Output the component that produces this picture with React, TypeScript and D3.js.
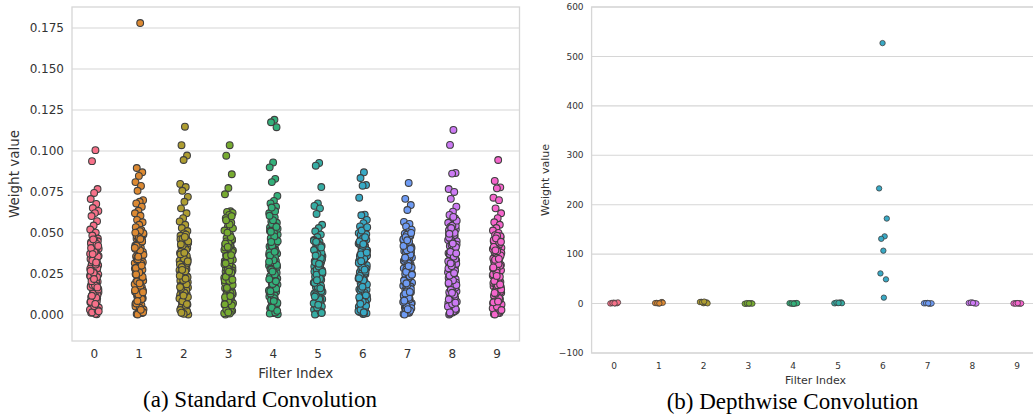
import React from "react";
import * as d3 from "d3";

const filters = ["0", "1", "2", "3", "4", "5", "6", "7", "8", "9"];
const palette = ["#f77189", "#dc8932", "#ae9d31", "#77ab31", "#33b07a", "#36ada4", "#38a9c5", "#6e9bf4", "#cc7af4", "#f565cc"];

// (a) standard convolution, weights per filter (outliers first, then the dense column)
const std0 = [0.1005, 0.0938, 0.0768, 0.0744, 0.0707, 0.0677, 0.0652, 0.0634, 0.0621, 0.0603, 0.0572, 0.0545, 0.0521, 0.0502, 0.0484,
  0.0466, 0.0452, 0.0443, 0.0429, 0.0418, 0.0404, 0.0392, 0.0379, 0.0368, 0.0353, 0.0341, 0.0330, 0.0316, 0.0303, 0.0291, 0.0278, 0.0266, 0.0253, 0.0240, 0.0228, 0.0215, 0.0203, 0.0190, 0.0178, 0.0164, 0.0152, 0.0139, 0.0127, 0.0114, 0.0102, 0.0089, 0.0077, 0.0063, 0.0051, 0.0038, 0.0026, 0.0013, 0.0004, 0.0019, 0.0045, 0.0070, 0.0096, 0.0121, 0.0146, 0.0171, 0.0197, 0.0222, 0.0247, 0.0272, 0.0298, 0.0323, 0.0348, 0.0373, 0.0398, 0.0424, 0.0449,
  0.0459, 0.0436, 0.0411, 0.0385, 0.0360, 0.0335, 0.0309, 0.0284, 0.0259, 0.0234, 0.0208, 0.0183, 0.0158, 0.0133, 0.0108, 0.0082, 0.0057, 0.0032, 0.0007, 0.0016, 0.0029, 0.0054, 0.0080, 0.0105, 0.0130, 0.0155, 0.0181, 0.0206, 0.0231, 0.0256, 0.0282, 0.0307, 0.0332, 0.0357, 0.0383, 0.0408, 0.0433, 0.0461, 0.0022, 0.0067, 0.0117, 0.0168, 0.0219, 0.0269, 0.0320, 0.0371, 0.0421];
const std1 = [0.178, 0.0896, 0.0870, 0.0848, 0.0810, 0.0787, 0.0757, 0.0700, 0.0690, 0.0680, 0.0660, 0.0635, 0.0620, 0.0605, 0.0580, 0.0565, 0.0550, 0.0535,
  0.0518, 0.0504, 0.0491, 0.0477, 0.0465, 0.0450, 0.0437, 0.0423, 0.0411, 0.0396, 0.0384, 0.0369, 0.0357, 0.0342, 0.0330, 0.0316, 0.0303, 0.0289, 0.0276, 0.0262, 0.0249, 0.0235, 0.0222, 0.0208, 0.0195, 0.0181, 0.0168, 0.0154, 0.0141, 0.0127, 0.0114, 0.0100, 0.0087, 0.0073, 0.0060, 0.0046, 0.0033, 0.0019, 0.0006, 0.0012, 0.0040, 0.0067, 0.0094, 0.0121, 0.0148, 0.0175, 0.0202, 0.0229, 0.0256, 0.0283, 0.0310, 0.0337, 0.0364, 0.0391, 0.0418, 0.0445, 0.0472, 0.0498,
  0.0511, 0.0484, 0.0457, 0.0430, 0.0403, 0.0376, 0.0349, 0.0322, 0.0295, 0.0268, 0.0241, 0.0214, 0.0187, 0.0160, 0.0133, 0.0106, 0.0079, 0.0052, 0.0025, 0.0003, 0.0016, 0.0043, 0.0070, 0.0097, 0.0124, 0.0151, 0.0178, 0.0205, 0.0232, 0.0259, 0.0286, 0.0313, 0.0340, 0.0367, 0.0394, 0.0421, 0.0448, 0.0475, 0.0502, 0.0031, 0.0085, 0.0139, 0.0193, 0.0247, 0.0301, 0.0355, 0.0409, 0.0463];
const std2 = [0.1148, 0.1035, 0.0972, 0.0945, 0.0799, 0.0780, 0.0757, 0.0720, 0.0690, 0.0650, 0.0620, 0.0590, 0.0570, 0.0550, 0.0530, 0.0512,
  0.0497, 0.0483, 0.0470, 0.0458, 0.0444, 0.0431, 0.0418, 0.0405, 0.0392, 0.0378, 0.0366, 0.0352, 0.0339, 0.0326, 0.0313, 0.0300, 0.0287, 0.0273, 0.0261, 0.0247, 0.0234, 0.0221, 0.0208, 0.0195, 0.0182, 0.0168, 0.0156, 0.0142, 0.0129, 0.0116, 0.0103, 0.0090, 0.0077, 0.0063, 0.0051, 0.0037, 0.0024, 0.0011, 0.0003, 0.0017, 0.0044, 0.0070, 0.0096, 0.0122, 0.0148, 0.0174, 0.0200, 0.0226, 0.0253, 0.0279, 0.0305, 0.0331, 0.0357, 0.0384, 0.0410, 0.0436, 0.0462,
  0.0490, 0.0464, 0.0438, 0.0412, 0.0386, 0.0360, 0.0334, 0.0308, 0.0282, 0.0256, 0.0230, 0.0204, 0.0178, 0.0152, 0.0126, 0.0100, 0.0074, 0.0048, 0.0022, 0.0007, 0.0030, 0.0057, 0.0083, 0.0109, 0.0135, 0.0161, 0.0187, 0.0213, 0.0239, 0.0266, 0.0292, 0.0318, 0.0344, 0.0370, 0.0397, 0.0423, 0.0449, 0.0476, 0.0014, 0.0066, 0.0118, 0.0170, 0.0222, 0.0275, 0.0327, 0.0379, 0.0431];
const std3 = [0.1035, 0.0971, 0.0858, 0.0774, 0.0736, 0.0632, 0.0628, 0.0622, 0.0610, 0.0590, 0.0562, 0.0540, 0.0515, 0.0490,
  0.0469, 0.0456, 0.0444, 0.0431, 0.0417, 0.0405, 0.0393, 0.0380, 0.0366, 0.0354, 0.0342, 0.0329, 0.0315, 0.0302, 0.0290, 0.0277, 0.0265, 0.0252, 0.0239, 0.0227, 0.0214, 0.0202, 0.0189, 0.0176, 0.0163, 0.0151, 0.0138, 0.0126, 0.0113, 0.0100, 0.0088, 0.0075, 0.0062, 0.0050, 0.0037, 0.0025, 0.0012, 0.0002, 0.0020, 0.0046, 0.0071, 0.0097, 0.0122, 0.0147, 0.0172, 0.0196, 0.0221, 0.0246, 0.0271, 0.0297, 0.0322, 0.0347, 0.0372, 0.0397, 0.0423, 0.0448,
  0.0462, 0.0437, 0.0412, 0.0386, 0.0361, 0.0336, 0.0311, 0.0286, 0.0261, 0.0236, 0.0211, 0.0186, 0.0161, 0.0136, 0.0111, 0.0086, 0.0061, 0.0036, 0.0011, 0.0008, 0.0033, 0.0058, 0.0083, 0.0108, 0.0133, 0.0158, 0.0183, 0.0208, 0.0233, 0.0258, 0.0283, 0.0309, 0.0334, 0.0359, 0.0384, 0.0409, 0.0435, 0.0475, 0.0502, 0.0528, 0.0552, 0.0578, 0.0602, 0.0015, 0.0065, 0.0115, 0.0165, 0.0215, 0.0265, 0.0315, 0.0365, 0.0415];
const std4 = [0.1190, 0.1175, 0.1145, 0.0930, 0.0900, 0.0830, 0.0810, 0.0726, 0.0695, 0.0680, 0.0660, 0.0640, 0.0620, 0.0595, 0.0570, 0.0562,
  0.0548, 0.0533, 0.0519, 0.0504, 0.0490, 0.0475, 0.0461, 0.0446, 0.0432, 0.0417, 0.0403, 0.0388, 0.0374, 0.0359, 0.0345, 0.0330, 0.0316, 0.0301, 0.0287, 0.0272, 0.0258, 0.0243, 0.0229, 0.0214, 0.0200, 0.0185, 0.0171, 0.0156, 0.0142, 0.0127, 0.0113, 0.0098, 0.0084, 0.0069, 0.0055, 0.0040, 0.0026, 0.0011, 0.0004, 0.0019, 0.0048, 0.0077, 0.0106, 0.0135, 0.0164, 0.0193, 0.0222, 0.0251, 0.0280, 0.0309, 0.0338, 0.0367, 0.0396, 0.0425, 0.0454, 0.0483, 0.0512, 0.0541,
  0.0555, 0.0526, 0.0497, 0.0468, 0.0439, 0.0410, 0.0381, 0.0352, 0.0323, 0.0294, 0.0265, 0.0236, 0.0207, 0.0178, 0.0149, 0.0120, 0.0091, 0.0062, 0.0033, 0.0008, 0.0015, 0.0044, 0.0073, 0.0102, 0.0131, 0.0160, 0.0189, 0.0218, 0.0247, 0.0276, 0.0305, 0.0334, 0.0363, 0.0392, 0.0421, 0.0450, 0.0479, 0.0508, 0.0537, 0.0578, 0.0605, 0.0632, 0.0655, 0.0025, 0.0085, 0.0145, 0.0205, 0.0265, 0.0325, 0.0385, 0.0445];
const std5 = [0.0927, 0.0910, 0.0780, 0.0680, 0.0665, 0.0650, 0.0616, 0.0550, 0.0530, 0.0510, 0.0490, 0.0475,
  0.0458, 0.0446, 0.0433, 0.0421, 0.0408, 0.0396, 0.0383, 0.0371, 0.0358, 0.0346, 0.0333, 0.0321, 0.0308, 0.0296, 0.0283, 0.0271, 0.0258, 0.0246, 0.0233, 0.0221, 0.0208, 0.0196, 0.0183, 0.0171, 0.0158, 0.0146, 0.0133, 0.0121, 0.0108, 0.0096, 0.0083, 0.0071, 0.0058, 0.0046, 0.0033, 0.0021, 0.0008, 0.0015, 0.0040, 0.0065, 0.0090, 0.0115, 0.0140, 0.0165, 0.0190, 0.0215, 0.0240, 0.0265, 0.0290, 0.0315, 0.0340, 0.0365, 0.0390, 0.0415, 0.0440,
  0.0452, 0.0427, 0.0402, 0.0377, 0.0352, 0.0327, 0.0302, 0.0277, 0.0252, 0.0227, 0.0202, 0.0177, 0.0152, 0.0127, 0.0102, 0.0077, 0.0052, 0.0027, 0.0003, 0.0021, 0.0046, 0.0071, 0.0096, 0.0121, 0.0146, 0.0171, 0.0196, 0.0221, 0.0246, 0.0271, 0.0296, 0.0321, 0.0346, 0.0371, 0.0396, 0.0421, 0.0446, 0.0012, 0.0062, 0.0112, 0.0162, 0.0212, 0.0262, 0.0312, 0.0362, 0.0412];
const std6 = [0.0870, 0.0835, 0.0792, 0.0788, 0.0715, 0.0612, 0.0608, 0.0580, 0.0560, 0.0540, 0.0520, 0.0510,
  0.0499, 0.0486, 0.0472, 0.0459, 0.0446, 0.0433, 0.0420, 0.0406, 0.0393, 0.0380, 0.0367, 0.0354, 0.0340, 0.0327, 0.0314, 0.0301, 0.0288, 0.0274, 0.0261, 0.0248, 0.0235, 0.0222, 0.0208, 0.0195, 0.0182, 0.0169, 0.0156, 0.0142, 0.0129, 0.0116, 0.0103, 0.0090, 0.0076, 0.0063, 0.0050, 0.0037, 0.0024, 0.0010, 0.0005, 0.0018, 0.0043, 0.0069, 0.0095, 0.0121, 0.0147, 0.0173, 0.0199, 0.0225, 0.0252, 0.0278, 0.0304, 0.0330, 0.0356, 0.0383, 0.0409, 0.0435, 0.0461, 0.0488,
  0.0492, 0.0466, 0.0440, 0.0414, 0.0388, 0.0362, 0.0336, 0.0310, 0.0284, 0.0258, 0.0232, 0.0206, 0.0180, 0.0154, 0.0128, 0.0102, 0.0076, 0.0050, 0.0024, 0.0008, 0.0031, 0.0056, 0.0082, 0.0108, 0.0134, 0.0160, 0.0186, 0.0212, 0.0238, 0.0265, 0.0291, 0.0317, 0.0343, 0.0369, 0.0396, 0.0422, 0.0448, 0.0474, 0.0515, 0.0535, 0.0016, 0.0068, 0.0120, 0.0172, 0.0224, 0.0276, 0.0328, 0.0380, 0.0432];
const std7 = [0.0805, 0.0708, 0.0670, 0.0640, 0.0567, 0.0555, 0.0540, 0.0520, 0.0505,
  0.0496, 0.0482, 0.0469, 0.0456, 0.0443, 0.0429, 0.0416, 0.0403, 0.0390, 0.0376, 0.0363, 0.0350, 0.0337, 0.0323, 0.0310, 0.0297, 0.0284, 0.0270, 0.0257, 0.0244, 0.0231, 0.0217, 0.0204, 0.0191, 0.0178, 0.0164, 0.0151, 0.0138, 0.0125, 0.0111, 0.0098, 0.0085, 0.0072, 0.0058, 0.0045, 0.0032, 0.0019, 0.0006, 0.0013, 0.0039, 0.0066, 0.0092, 0.0118, 0.0145, 0.0171, 0.0197, 0.0224, 0.0250, 0.0276, 0.0303, 0.0329, 0.0355, 0.0382, 0.0408, 0.0434, 0.0461, 0.0487,
  0.0489, 0.0462, 0.0436, 0.0410, 0.0383, 0.0357, 0.0331, 0.0304, 0.0278, 0.0252, 0.0225, 0.0199, 0.0173, 0.0146, 0.0120, 0.0094, 0.0067, 0.0041, 0.0015, 0.0002, 0.0026, 0.0052, 0.0079, 0.0105, 0.0131, 0.0158, 0.0184, 0.0210, 0.0237, 0.0263, 0.0289, 0.0316, 0.0342, 0.0368, 0.0395, 0.0421, 0.0447, 0.0474, 0.0500, 0.0035, 0.0087, 0.0140, 0.0193, 0.0245, 0.0298, 0.0350, 0.0403, 0.0455];
const std8 = [0.1128, 0.1037, 0.0866, 0.0862, 0.0768, 0.0750, 0.0708, 0.0660, 0.0630, 0.0610, 0.0590, 0.0570, 0.0562,
  0.0551, 0.0537, 0.0522, 0.0508, 0.0493, 0.0479, 0.0464, 0.0450, 0.0435, 0.0421, 0.0406, 0.0392, 0.0377, 0.0363, 0.0348, 0.0334, 0.0319, 0.0305, 0.0290, 0.0276, 0.0261, 0.0247, 0.0232, 0.0218, 0.0203, 0.0189, 0.0174, 0.0160, 0.0145, 0.0131, 0.0116, 0.0102, 0.0087, 0.0073, 0.0058, 0.0044, 0.0029, 0.0015, 0.0003, 0.0022, 0.0051, 0.0080, 0.0109, 0.0138, 0.0167, 0.0196, 0.0225, 0.0254, 0.0283, 0.0312, 0.0341, 0.0370, 0.0399, 0.0428, 0.0457, 0.0486, 0.0515, 0.0544,
  0.0545, 0.0516, 0.0487, 0.0458, 0.0429, 0.0400, 0.0371, 0.0342, 0.0313, 0.0284, 0.0255, 0.0226, 0.0197, 0.0168, 0.0139, 0.0110, 0.0081, 0.0052, 0.0023, 0.0009, 0.0037, 0.0066, 0.0095, 0.0124, 0.0153, 0.0182, 0.0211, 0.0240, 0.0269, 0.0298, 0.0327, 0.0356, 0.0385, 0.0414, 0.0443, 0.0472, 0.0501, 0.0530, 0.0575, 0.0598, 0.0015, 0.0075, 0.0135, 0.0195, 0.0255, 0.0315, 0.0375, 0.0435, 0.0495];
const std9 = [0.0945, 0.0817, 0.0778, 0.0772, 0.0715, 0.0700, 0.0650, 0.0620, 0.0590, 0.0565, 0.0550, 0.0530, 0.0515, 0.0500,
  0.0487, 0.0474, 0.0461, 0.0448, 0.0435, 0.0422, 0.0409, 0.0396, 0.0383, 0.0370, 0.0357, 0.0344, 0.0331, 0.0318, 0.0305, 0.0292, 0.0279, 0.0266, 0.0253, 0.0240, 0.0227, 0.0214, 0.0201, 0.0188, 0.0175, 0.0162, 0.0149, 0.0136, 0.0123, 0.0110, 0.0097, 0.0084, 0.0071, 0.0058, 0.0045, 0.0032, 0.0019, 0.0006, 0.0012, 0.0038, 0.0064, 0.0090, 0.0116, 0.0142, 0.0168, 0.0194, 0.0220, 0.0246, 0.0272, 0.0298, 0.0324, 0.0350, 0.0376, 0.0402, 0.0428, 0.0454, 0.0480,
  0.0482, 0.0456, 0.0430, 0.0404, 0.0378, 0.0352, 0.0326, 0.0300, 0.0274, 0.0248, 0.0222, 0.0196, 0.0170, 0.0144, 0.0118, 0.0092, 0.0066, 0.0040, 0.0014, 0.0003, 0.0025, 0.0051, 0.0077, 0.0103, 0.0129, 0.0155, 0.0181, 0.0207, 0.0233, 0.0259, 0.0285, 0.0311, 0.0337, 0.0363, 0.0389, 0.0415, 0.0441, 0.0467, 0.0030, 0.0082, 0.0134, 0.0186, 0.0238, 0.0290, 0.0342, 0.0394, 0.0446];
const standardWeights = [std0, std1, std2, std3, std4, std5, std6, std7, std8, std9];
const standardTicks = [0, 0.025, 0.05, 0.075, 0.1, 0.125, 0.15, 0.175];

// (b) depthwise convolution, 3x3 = 9 weights per filter
const dw0 = [0.4, 1.1, 0.7, 1.9, 0.2, 1.4, 0.9, 2.3, 0.5];
const dw1 = [0.6, 1.3, 3.2, 0.3, 1.0, 2.1, 0.8, 1.6, 0.4];
const dw2 = [1.2, 3.6, 2.4, 0.8, 3.1, 1.7, 2.8, 0.5, 4.0];
const dw3 = [0.2, -0.5, 0.6, 0.1, -0.3, 0.4, 0.9, -0.1, 0.3];
const dw4 = [0.5, 0.2, 1.0, -0.4, 0.7, 0.1, 0.3, 0.8, -0.2];
const dw5 = [1.8, 0.9, 2.4, 1.2, 0.6, 1.5, 2.0, 0.8, 1.1];
const dw6 = [12, 61, 49, 527, 233, 136, 131, 172, 107];
const dw7 = [0.3, 0.8, 0.1, 1.2, 0.5, -0.2, 0.9, 0.4, 0.6];
const dw8 = [0.9, 1.6, 0.4, 2.2, 1.1, 0.7, 1.9, 0.2, 1.3];
const dw9 = [0.1, 0.5, -0.3, 0.8, 0.2, 0.6, -0.1, 0.4, 0.9];
const depthwiseWeights = [dw0, dw1, dw2, dw3, dw4, dw5, dw6, dw7, dw8, dw9];
const depthwiseTicks = [-100, 0, 100, 200, 300, 400, 500, 600];

const FONT = "DejaVu Sans";
const GRID = "#d6d6d6";
const TEXT = "#333";

// deterministic strip-plot jitter in [-1, 1]
const jitter = (i: number) => ((((i + 1) * 0.6180339887) % 1) - 0.5) * 2;

type PanelProps = {
  left: number; right: number; top: number; bottom: number;
  domain: [number, number]; ticks: number[]; fmt: (v: number) => string;
  data: number[][]; r: number; sw: number;
  tickSize: number; labelSize: number;
  yLabelX: number; xTickY: number; xLabelY: number;
};

const Panel = (p: PanelProps) => {
  const x = d3.scaleBand().domain(filters).range([p.left, p.right]).padding(0);
  const y = d3.scaleLinear().domain(p.domain).range([p.bottom, p.top]);
  const bw = x.bandwidth();
  const midY = (p.top + p.bottom) / 2;
  return (
    <g>
      {p.ticks.map(t => (
        <line key={"g" + t} x1={p.left} x2={p.right} y1={y(t)} y2={y(t)} stroke={GRID} strokeWidth={1.1} />
      ))}
      <rect x={p.left} y={p.top} width={p.right - p.left} height={p.bottom - p.top} fill="none" stroke={GRID} strokeWidth={1.3} />
      {p.data.map((vals, ci) => (
        <g key={"c" + ci}>
          {vals.map((v, i) => (
            <circle key={i} cx={x(filters[ci])! + bw / 2 + jitter(i) * bw * 0.1} cy={y(v)} r={p.r}
              fill={palette[ci]} stroke="#3f3f3f" strokeWidth={p.sw} />
          ))}
        </g>
      ))}
      {p.ticks.map(t => (
        <text key={"t" + t} x={p.left - 8} y={y(t)} dy="0.35em" textAnchor="end" fontFamily={FONT} fontSize={p.tickSize} fill={TEXT}>
          {p.fmt(t)}
        </text>
      ))}
      {filters.map(f => (
        <text key={"x" + f} x={x(f)! + bw / 2} y={p.xTickY} dy="0.35em" textAnchor="middle" fontFamily={FONT} fontSize={p.tickSize} fill={TEXT}>
          {f}
        </text>
      ))}
      <text x={(p.left + p.right) / 2} y={p.xLabelY} dy="0.35em" textAnchor="middle" fontFamily={FONT} fontSize={p.labelSize} fill={TEXT}>
        Filter Index
      </text>
      <text transform={`translate(${p.yLabelX},${midY}) rotate(-90)`} dy="0.35em" textAnchor="middle" fontFamily={FONT} fontSize={p.labelSize} fill={TEXT}>
        Weight value
      </text>
    </g>
  );
};

const App = () => {
  const fmt3 = d3.format(".3f");
  const fmtInt = (v: number) => (v < 0 ? "\u2212" + Math.abs(v) : String(v));
  return (
    <svg width={1033} height={415} style={{ position: "absolute", left: 0, top: 0, background: "#fff" }}>
      <rect width={1033} height={415} fill="#fff" />
      <Panel left={72} right={519.5} top={7} bottom={341} domain={[-0.0159, 0.1878]} ticks={standardTicks} fmt={fmt3}
        data={standardWeights} r={3.4} sw={1.1} tickSize={12} labelSize={13.5}
        yLabelX={14} xTickY={354} xLabelY={373} />
      <Panel left={591.6} right={1039.6} top={7} bottom={353} domain={[-100, 600]} ticks={depthwiseTicks} fmt={fmtInt}
        data={depthwiseWeights} r={2.7} sw={0.8} tickSize={9} labelSize={11}
        yLabelX={545} xTickY={366} xLabelY={380} />
      <text x={260} y={407} textAnchor="middle" fontFamily="Liberation Serif" fontSize={23} fill="#000">
        (a)  Standard Convolution
      </text>
      <text x={792.5} y={409} textAnchor="middle" fontFamily="Liberation Serif" fontSize={23} fill="#000">
        (b)  Depthwise Convolution
      </text>
    </svg>
  );
};

export default App;
